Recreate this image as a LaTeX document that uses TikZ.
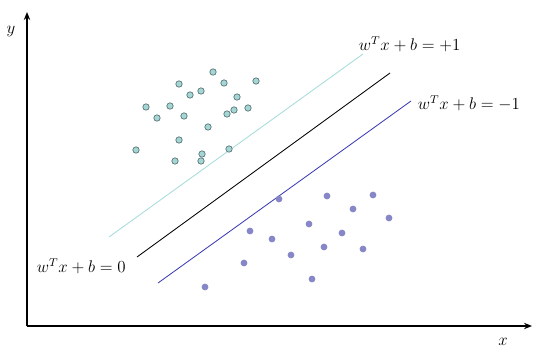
\documentclass[tikz,border=0pt]{standalone}
\usepackage{amsmath,amssymb}
\usetikzlibrary{arrows.meta}
\definecolor{cyanpt}{RGB}{165,214,214}
\definecolor{cyanln}{RGB}{165,220,218}
\definecolor{bluept}{RGB}{135,135,200}
\definecolor{blueln}{RGB}{60,60,180}
\tikzset{
  >={Stealth[length=2mm,width=1.6mm]},
  ax/.style={line width=1.1pt},
  pp/.style={circle,fill=cyanpt,draw=cyanpt!55!black,line width=0.5pt,inner sep=0pt,minimum size=1.6mm},
  np/.style={circle,fill=bluept,inner sep=0pt,minimum size=1.7mm},
  eq/.style={font=\large,inner sep=1pt},
  every picture/.style={line width=0.6pt},
}
\begin{document}
\begin{tikzpicture}[x=0.025cm,y=-0.025cm]
\useasboundingbox (0,0) rectangle (550,355);
\coordinate (o) at (27,326); \coordinate (ytop) at (27,12); \coordinate (xend) at (532,326);
\draw[ax,->] (o)--(ytop); \draw[ax,->] (o)--(xend);
\node[eq] (ylab) at (11,32) {$y$}; \node[eq] (xlab) at (503,342) {$x$};
% margins and hyperplane
\coordinate (p1) at (109,237); \coordinate (p2) at (363,54);
\coordinate (h1) at (137,257); \coordinate (h2) at (390,73);
\coordinate (n1) at (158,283); \coordinate (n2) at (411,101);
\draw[cyanln] (p1)--(p2); \draw (h1)--(h2); \draw[blueln] (n1)--(n2);
\node[eq,anchor=west] (lp) at (357,44) {$w^Tx+b=+1$};
\node[eq,anchor=west] (ln) at (416,103) {$w^Tx+b=-1$};
\node[eq,anchor=west] (lh) at (35,266) {$w^Tx+b=0$};
% samples
\foreach \px/\py [count=\i] in {213/72,179/84,224/83,256/81,201/91,190/95,237/97,146/107,170/106,
  157/118,184/116,234/110,227/114,248/108,208/127,179/140,136/150,202/154,229/149,175/161,201/161}
  \node[pp] (c\i) at (\px,\py) {};
\foreach \px/\py [count=\i] in {279/199,327/196,373/195,353/209,389/218,309/224,250/231,342/233,
  272/239,324/247,363/249,291/255,244/263,312/279,205/287}
  \node[np] (d\i) at (\px,\py) {};
\end{tikzpicture}
\end{document}
